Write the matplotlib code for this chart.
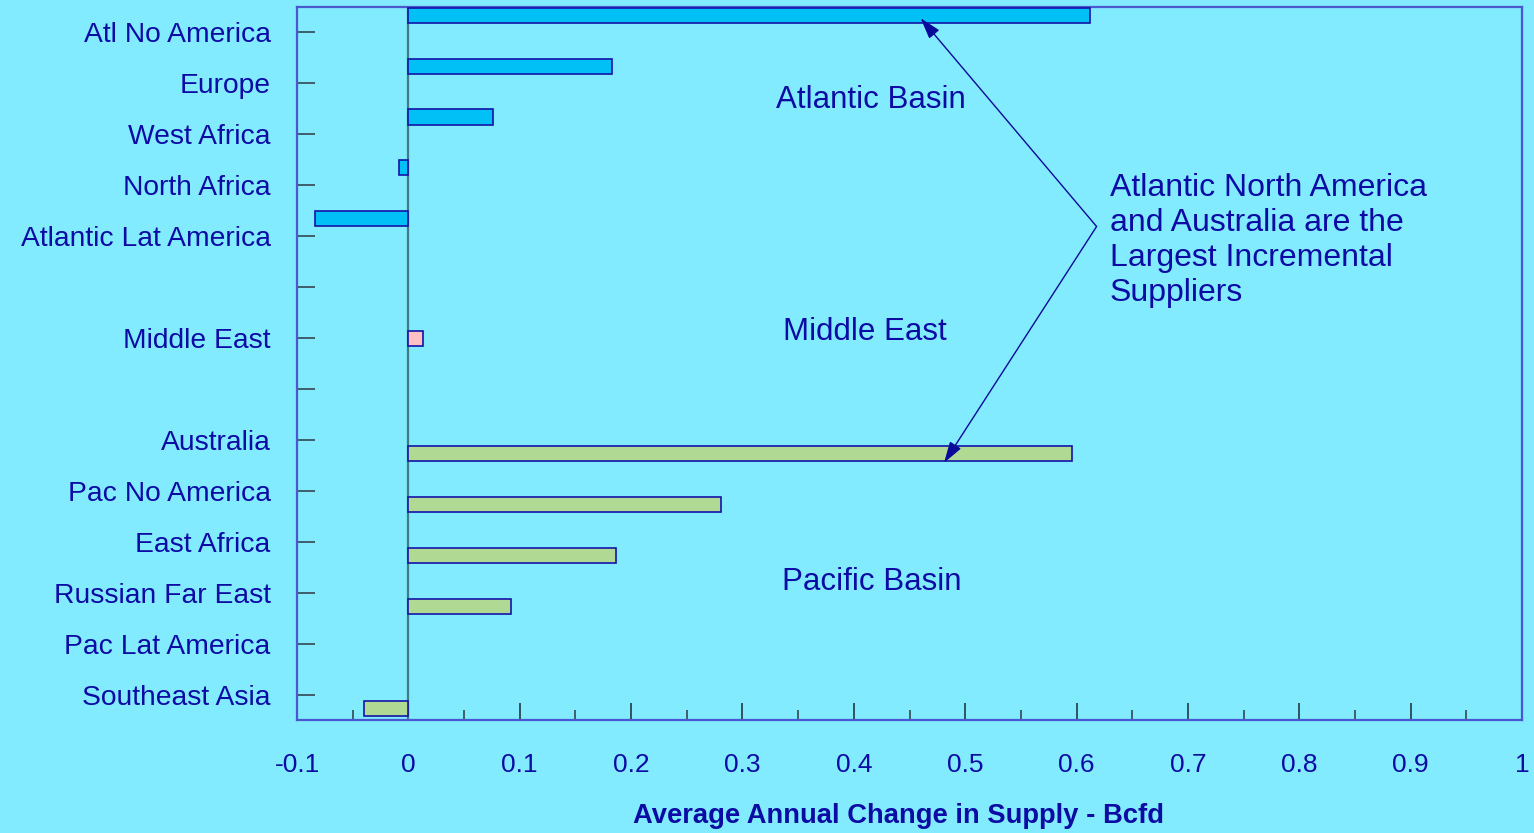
import matplotlib
matplotlib.use("Agg")
import matplotlib.pyplot as plt
import numpy as np
from matplotlib.ticker import MultipleLocator

plt.rcParams['font.family'] = ['Liberation Sans', 'DejaVu Sans']

# ---- data ----
categories = ["Atl No America", "Europe", "West Africa", "North Africa",
              "Atlantic Lat America", "", "Middle East", "",
              "Australia", "Pac No America", "East Africa",
              "Russian Far East", "Pac Lat America", "Southeast Asia"]
atlantic_regions = ["Atl No America", "Europe", "West Africa", "North Africa",
                    "Atlantic Lat America"]
atlantic_values = [0.612, 0.183, 0.076, -0.008, -0.084]
middle_east_regions = ["Middle East"]
middle_east_values = [0.013]
pacific_regions = ["Australia", "Pac No America", "East Africa",
                   "Russian Far East", "Pac Lat America", "Southeast Asia"]
pacific_values = [0.596, 0.281, 0.186, 0.092, 0.0, -0.040]
x_ticks = [-0.1, 0, 0.1, 0.2, 0.3, 0.4, 0.5, 0.6, 0.7, 0.8, 0.9, 1]
x_ticklabels = ["-0.1", "0", "0.1", "0.2", "0.3", "0.4", "0.5", "0.6",
                "0.7", "0.8", "0.9", "1"]

BG = "#82EBFF"
NAVY = "#0C0CA4"
EDGE = "#1414A8"

fig = plt.figure(figsize=(15.34, 8.33), dpi=100, facecolor=BG)
ax = fig.add_axes([297/1534, 1-720/833, (1522-297)/1534, (720-7)/833])
ax.set_facecolor(BG)

pos = {c: i for i, c in enumerate(categories) if c}
h = 0.295


def lw(vals):
    return [0 if v == 0 else 1.2 for v in vals]


ax.barh([pos[c] - 0.34 for c in atlantic_regions], atlantic_values, height=h,
        color="#00C0F6", edgecolor=EDGE, linewidth=lw(atlantic_values), zorder=3)
ax.barh([pos[c] for c in middle_east_regions], middle_east_values, height=h,
        color="#FFC0C4", edgecolor=EDGE, linewidth=lw(middle_east_values), zorder=3)
ax.barh([pos[c] + 0.275 for c in pacific_regions], pacific_values, height=h,
        color="#B0DA94", edgecolor=EDGE, linewidth=lw(pacific_values), zorder=3)

ax.axvline(0, color="#3E7C86", linewidth=1.6, zorder=2)

ax.set_xlim(-0.1, 1.0)
ax.set_ylim(len(categories) - 0.5, -0.5)
ax.set_yticks(range(len(categories)))
ax.set_yticklabels(categories)
ax.set_xticks(x_ticks)
ax.set_xticklabels(x_ticklabels)
ax.xaxis.set_minor_locator(MultipleLocator(0.05))

ax.tick_params(axis='y', direction='in', length=13, width=1.1, color="#2A3A40",
               labelsize=20.3, labelcolor=NAVY, pad=19)
ax.tick_params(axis='x', which='major', direction='in', length=12, width=1.1,
               color="#1A2A30", labelsize=19, labelcolor=NAVY, pad=23.5)
ax.tick_params(axis='x', which='minor', direction='in', length=7, width=1.1,
               color="#2A3A40")

for s in ax.spines.values():
    s.set_color("#4A58D0")
    s.set_linewidth(1.6)

fig.text(898/1534, 1-816/833, "Average Annual Change in Supply - Bcfd",
         ha='center', va='center', fontsize=19.7, fontweight='bold', color=NAVY)

ax.text(0.415, 1.33, "Atlantic Basin", ha='center', va='center',
        fontsize=22.5, color=NAVY)
ax.text(0.410, 5.88, "Middle East", ha='center', va='center',
        fontsize=22.5, color=NAVY)
ax.text(0.416, 10.79, "Pacific Basin", ha='center', va='center',
        fontsize=22.5, color=NAVY)
ax.text(0.630, 4.08,
        "Atlantic North America\nand Australia are the\nLargest Incremental\nSuppliers",
        ha='left', va='center', fontsize=23, color=NAVY, linespacing=1.22)

vertex = (0.618, 3.81)
for tip in [(0.460, -0.28), (0.481, 8.45)]:
    ax.annotate("", xy=tip, xytext=vertex,
                arrowprops=dict(arrowstyle="-|>,head_length=1.3,head_width=0.4",
                                color="#0A0A9A", lw=1.0, shrinkA=0, shrinkB=0),
                zorder=5)

fig.savefig("out.png", dpi=100, facecolor=BG)
